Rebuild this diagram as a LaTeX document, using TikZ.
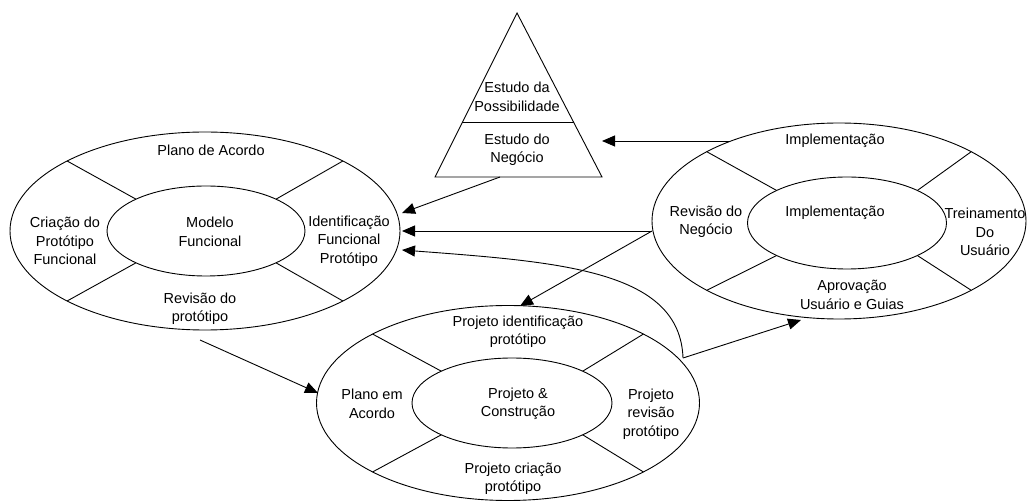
\documentclass[tikz,border=0pt]{standalone}
\usepackage{fontspec}
\setmainfont{Liberation Sans}
\usetikzlibrary{shapes.geometric,arrows.meta,calc}
\tikzset{
  oval/.style={draw, ellipse, inner sep=0pt, line width=0.9pt},
  lbl/.style={align=center, inner sep=0pt, font=\fontsize{14.5}{18.5}\selectfont},
  conn/.style={line width=0.9pt, -{Triangle[length=13pt,width=11pt]}},
  plain/.style={line width=0.9pt},
}
\begin{document}
\begin{tikzpicture}[x=1pt,y=-1pt]
\useasboundingbox (0,0) rectangle (1028,502);

% ---- left cycle ----
\node[oval, minimum width=390pt, minimum height=198pt] (Lo) at (205,231) {};
\node[oval, minimum width=198pt, minimum height=90pt] (Li) at (206,231) {};
\foreach \a in {45,135,225,315}
  \draw[plain] ($(Lo.center)+(\a:195 and 99)$) -- ($(Li.center)+(\a:99 and 45)$);
\node[lbl] (l1) at (211,150) {Plano de Acordo};
\node[lbl] (l2) at (65,241) {Criação do\\Protótipo\\Funcional};
\node[lbl] (l3) at (210,232) {Modelo\\Funcional};
\node[lbl] (l4) at (349,241) {Identificação\\Funcional\\Protótipo};
\node[lbl] (l5) at (200,309) {Revisão do\\protótipo};

% ---- right cycle ----
\node[oval, minimum width=374pt, minimum height=196pt] (Ro) at (839,221) {};
\node[oval, minimum width=199pt, minimum height=92pt] (Ri) at (847,223) {};
\foreach \a in {45,135,225,315}
  \draw[plain] ($(Ro.center)+(\a:187 and 98)$) -- ($(Ri.center)+(\a:99.5 and 46)$);
\node[lbl] (r1) at (835,141) {Implementação};
\node[lbl] (r2) at (706,222) {Revisão do\\Negócio};
\node[lbl] (r3) at (835,213) {Implementação};
\node[lbl] (r4) at (985,232) {Treinamento\\Do\\Usuário};
\node[lbl] (r5) at (852,295) {Aprovação\\Usuário e Guias};

% ---- bottom cycle ----
\node[oval, minimum width=383pt, minimum height=195pt] (Bo) at (508,403) {};
\node[oval, minimum width=200pt, minimum height=90pt] (Bi) at (512,403) {};
\foreach \a in {45,135,225,315}
  \draw[plain] ($(Bo.center)+(\a:191.5 and 97.5)$) -- ($(Bi.center)+(\a:100 and 45)$);
\node[lbl] (b1) at (518,332) {Projeto identificação\\protótipo};
\node[lbl] (b2) at (372,404) {Plano em\\Acordo};
\node[lbl] (b3) at (518,404) {Projeto \&\\Construção};
\node[lbl] (b4) at (651,414) {Projeto\\revisão\\protótipo};
\node[lbl] (b5) at (513,479) {Projeto criação\\protótipo};

% ---- triangle ----
\coordinate (tA) at (517,13);
\coordinate (tL) at (435,177);
\coordinate (tR) at (602,177);
\draw[plain] (tA) -- (tR) -- (tL) -- cycle;
\draw[plain] ($(tA)!0.67!(tL)$) -- ($(tA)!0.67!(tR)$);
\node[lbl] (t1) at (517,97) {Estudo da\\Possibilidade};
\node[lbl] (t2) at (517,150) {Estudo do\\Negócio};

% ---- connectors ----
\coordinate (a1s) at (729,141);
\coordinate (a1e) at (602,141);
\coordinate (tb) at (500,177);
\coordinate (idTop) at (402,213);
\coordinate (idMid) at (402,231);
\coordinate (idBot) at (402,250);
\coordinate (rw) at (652,231);
\coordinate (btop) at (520,306);
\coordinate (bj) at (683,358);
\coordinate (rb) at (801,320);
\coordinate (lb) at (200,340);
\coordinate (bl) at (318,393);

\draw[conn] (a1s) -- (a1e);
\draw[conn] (tb) -- (idTop);
\draw[conn] (rw) -- (idMid);
\draw[conn] (rw) -- (btop);
\draw[conn] (bj) .. controls (680,270) and (560,262) .. (idBot);
\draw[conn] (bj) -- (rb);
\draw[conn] (lb) -- (bl);
\end{tikzpicture}
\end{document}
